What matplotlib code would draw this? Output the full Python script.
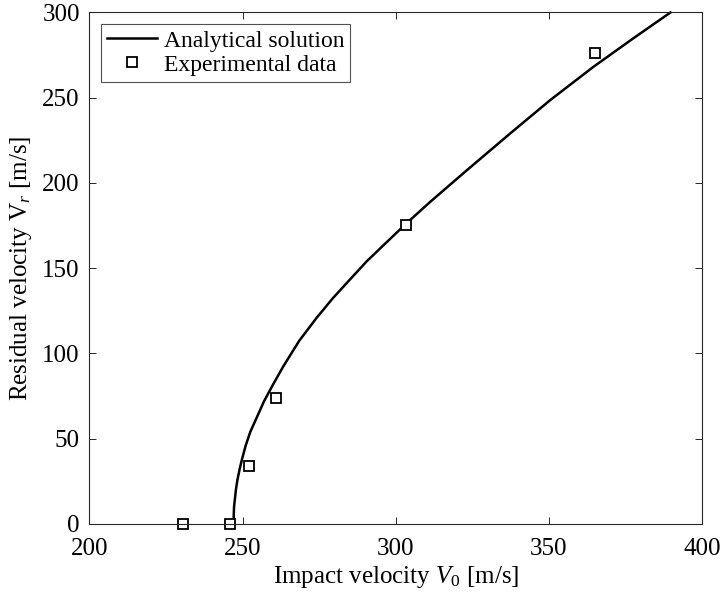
import matplotlib
matplotlib.use('Agg')
import matplotlib.pyplot as plt

# analytical curve
v0_curve = [247.0, 247.2, 247.8, 248.3, 249.0, 249.8, 251.0, 252.5, 254.5, 257.0,
            260.0, 263.3, 268.5, 274.2, 279.5, 285.1, 290.5, 296.0, 303.3, 311.3,
            323.3, 337.4, 350.5, 364.6, 377.7, 389.7]
vr_curve = [0, 10, 20, 25.8, 32, 38, 46, 54, 62, 72,
            82, 92.5, 107.5, 121, 132.5, 143.5, 154, 163.5, 176.0, 189.0,
            207.6, 229.1, 248.7, 268.2, 285.0, 300]

# experimental points
v0_exp = [230.5, 246.0, 252.0, 260.8, 303.4, 365.0]
vr_exp = [0, 0, 34, 74, 175.5, 276]

xticks = [200, 250, 300, 350, 400]
yticks = [0, 50, 100, 150, 200, 250, 300]

plt.rcParams['font.family'] = ['Liberation Serif', 'DejaVu Serif']
plt.rcParams['mathtext.fontset'] = 'custom'
plt.rcParams['mathtext.rm'] = 'Liberation Serif'
plt.rcParams['mathtext.it'] = 'Liberation Serif:italic'

fig = plt.figure(figsize=(7.2, 6), dpi=100)
ax = fig.add_axes([0.1243, 0.1267, 0.8507, 0.8525])

ax.plot(v0_curve, vr_curve, color='black', lw=1.8, label='Analytical solution', clip_on=False)
ax.plot(v0_exp, vr_exp, 's', mfc='white', mec='black', mew=1.3, ms=6.5,
        label='Experimental data', clip_on=False)

ax.set_xlim(200, 400)
ax.set_ylim(0, 300)
ax.set_xticks(xticks)
ax.set_yticks(yticks)
ax.tick_params(direction='in', top=True, right=True, length=5, width=0.7,
               color='#262626', labelsize=18)
ax.tick_params(axis='x', pad=10)
ax.tick_params(axis='y', pad=7)
for s in ax.spines.values():
    s.set_linewidth(0.8)
    s.set_color('#262626')

ax.set_xlabel(r'Impact velocity $\mathit{V}_{\mathit{0}}$ [m/s]', fontsize=18, labelpad=3)
ax.set_ylabel(r'Residual velocity $\mathrm{V}_{\mathit{r}}$ [m/s]', fontsize=18, labelpad=6)

leg = ax.legend(loc='upper left', fontsize=17, frameon=True, fancybox=False,
                edgecolor='#262626', borderaxespad=0.5, handlelength=2.1,
                borderpad=0.25, labelspacing=0.1, handletextpad=0.3)
leg.get_frame().set_linewidth(0.8)

fig.savefig('out.png', dpi=100)
